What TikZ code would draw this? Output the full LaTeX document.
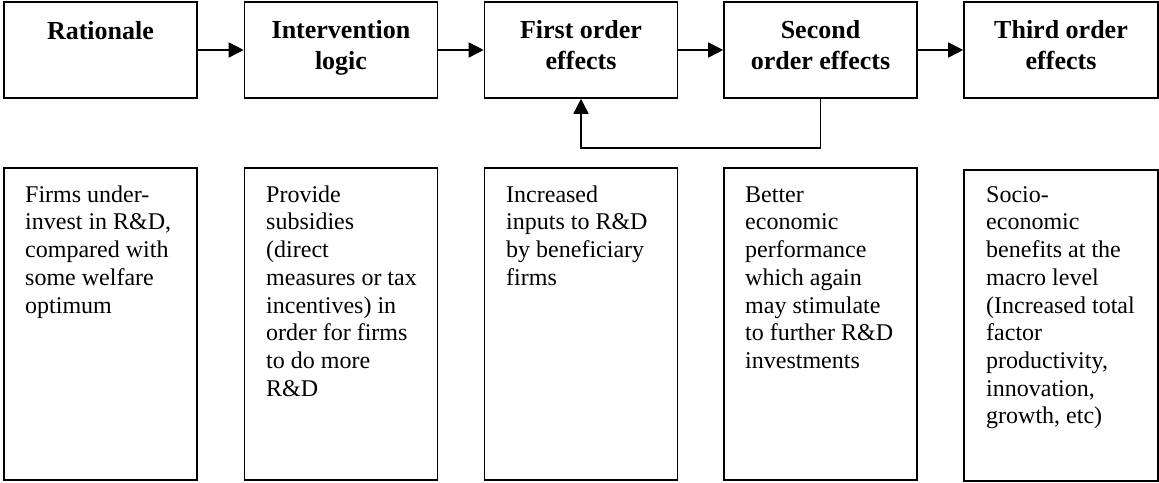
\documentclass[tikz,border=0pt]{standalone}
\usepackage{fontspec}
\setmainfont{Liberation Serif}
\usetikzlibrary{arrows.meta}
\newcommand{\headstrut}{\rule{0pt}{22pt}}
\newcommand{\bodystrut}{\rule{0pt}{20pt}}
\begin{document}
\begin{tikzpicture}[x=1pt,y=1pt,
  boxline/.style={draw, line width=1.6pt, inner sep=0pt},
  headbox/.style={boxline, minimum width=193pt, minimum height=96pt},
  bodybox/.style={boxline, minimum width=193pt, minimum height=312pt},
  headtext/.style={anchor=north, inner sep=0pt, align=center,
    font=\fontsize{26}{31}\selectfont\bfseries},
  bodytext/.style={anchor=north west, inner sep=0pt, align=left,
    font=\fontsize{24}{27.7}\selectfont},
  arr/.style={line width=1.6pt, -{Triangle[length=15pt,width=15pt]}}]
\useasboundingbox (0,0) rectangle (1159,-482);

% top boxes
\node[headbox] (h1) at (100.5,-50) {};
\node[headbox] (h2) at (341,-50) {};
\node[headbox] (h3) at (581,-50) {};
\node[headbox] (h4) at (820.5,-50) {};
\node[headbox, minimum width=194pt] (h5) at (1061,-50) {};

\node[headtext] (ht1) at (100.5,-17) {\headstrut Rationale};
\node[headtext] (ht2) at (341,-16.5) {\headstrut Intervention\\logic};
\node[headtext] (ht3) at (581,-16.5) {\headstrut First order\\effects};
\node[headtext] (ht4) at (820.5,-16.5) {\headstrut Second\\order effects};
\node[headtext] (ht5) at (1061,-16.5) {\headstrut Third order\\effects};

% arrows
\draw[arr] (h1) -- (h2);
\draw[arr] (h2) -- (h3);
\draw[arr] (h3) -- (h4);
\draw[arr] (h4) -- (h5);
\draw[arr] (h4.south) -- ++(0,-49) -| (h3.south);

% bottom boxes
\node[bodybox] (b1) at (100.5,-324) {};
\node[bodybox] (b2) at (341,-324) {};
\node[bodybox] (b3) at (581,-324) {};
\node[bodybox] (b4) at (820.5,-324) {};
\node[bodybox, minimum width=194pt, minimum height=311pt] (b5) at (1061,-325.5) {};

\node[bodytext] (bt1) at (25,-182) {\bodystrut Firms under-\\invest in R\&D,\\compared with\\some welfare\\optimum};
\node[bodytext] (bt2) at (266,-182) {\bodystrut Provide\\subsidies\\(direct\\measures or tax\\incentives) in\\order for firms\\to do more\\R\&D};
\node[bodytext] (bt3) at (506,-182) {\bodystrut Increased\\inputs to R\&D\\by beneficiary\\firms};
\node[bodytext] (bt4) at (745,-182) {\bodystrut Better\\economic\\performance\\which again\\may stimulate\\to further R\&D\\investments};
\node[bodytext] (bt5) at (986,-182) {\bodystrut Socio-\\economic\\benefits at the\\macro level\\(Increased total\\factor\\productivity,\\innovation,\\growth, etc)};
\end{tikzpicture}
\end{document}
